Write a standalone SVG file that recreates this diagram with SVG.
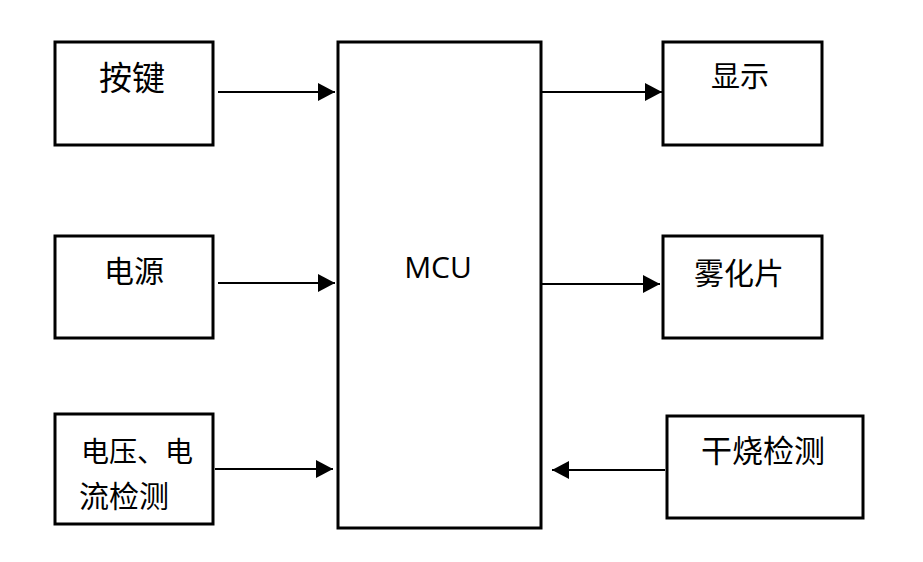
<svg xmlns="http://www.w3.org/2000/svg" width="923" height="562" viewBox="0 0 923 562">
<style>
.box{fill:#fff;stroke:#000;stroke-width:3}
.cn{font-family:"Noto Sans CJK SC","Noto Sans",sans-serif;fill:#000}
.conn{stroke:#000;stroke-width:2;fill:none;marker-end:url(#ah)}
</style>
<defs>
<marker id="ah" markerUnits="userSpaceOnUse" markerWidth="18" markerHeight="20" refX="17" refY="9" orient="auto">
<path d="M0,0 L17,9 L0,18 Z" fill="#000"/>
</marker>
</defs>
<rect width="923" height="562" fill="#fff"/>
<g id="keys"><rect class="box" x="55" y="42" width="158" height="103"/><text class="cn" x="99" y="90" font-size="33">按键</text></g>
<g id="power"><rect class="box" x="55" y="236" width="158" height="102"/><text class="cn" x="104" y="282" font-size="30">电源</text></g>
<g id="vi"><rect class="box" x="55" y="414" width="158" height="110"/><text class="cn" x="81" y="462" font-size="28">电压、电</text><text class="cn" x="79" y="507" font-size="30">流检测</text></g>
<g id="mcu"><rect class="box" x="338" y="42" width="203" height="486"/><text x="438" y="278" font-family="Open Sans, Liberation Sans, sans-serif" font-size="30" text-anchor="middle">MCU</text></g>
<g id="display"><rect class="box" x="663" y="42" width="159" height="103"/><text class="cn" x="711" y="87" font-size="29">显示</text></g>
<g id="atomizer"><rect class="box" x="663" y="236" width="159" height="102"/><text class="cn" x="694" y="284" font-size="30">雾化片</text></g>
<g id="dry"><rect class="box" x="667" y="416" width="196" height="102"/><text class="cn" x="701" y="462" font-size="31">干烧检测</text></g>
<g id="connectors">
<line class="conn" x1="218" y1="92" x2="335" y2="92"/>
<line class="conn" x1="218" y1="283" x2="335" y2="283"/>
<line class="conn" x1="215" y1="469" x2="333" y2="469"/>
<line class="conn" x1="542" y1="92" x2="662" y2="92"/>
<line class="conn" x1="542" y1="284" x2="660" y2="284"/>
<line class="conn" x1="665" y1="470" x2="552" y2="470"/>
</g>
</svg>
